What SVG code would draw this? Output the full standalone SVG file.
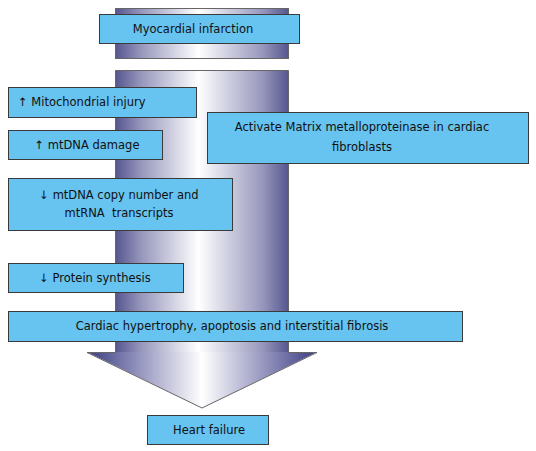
<svg xmlns="http://www.w3.org/2000/svg" width="536" height="451" viewBox="0 0 536 451">
<defs>
<linearGradient id="g" x1="0" y1="0" x2="1" y2="0">
<stop offset="0" stop-color="#56568f"/>
<stop offset="0.15" stop-color="#9797bd"/>
<stop offset="0.48" stop-color="#ffffff"/>
<stop offset="0.85" stop-color="#9797bd"/>
<stop offset="1" stop-color="#56568f"/>
</linearGradient>
<linearGradient id="gh" x1="0" y1="0" x2="1" y2="0">
<stop offset="0" stop-color="#3c3c82"/>
<stop offset="0.2" stop-color="#8a8ab8"/>
<stop offset="0.5" stop-color="#ffffff"/>
<stop offset="0.8" stop-color="#8a8ab8"/>
<stop offset="1" stop-color="#3c3c82"/>
</linearGradient>
<style>
.box{fill:#67c3ef;stroke:#3a3a3a;stroke-width:1}
.t{font-family:"DejaVu Sans",Verdana,sans-serif;font-size:11.5px;fill:#111}
.c{text-anchor:middle}
.sh{stroke:#666;stroke-width:1}
</style>
</defs>
<g id="connectors">
<rect class="sh" x="115.5" y="8.5" width="173" height="50" fill="url(#g)"/>
<rect x="115.5" y="70.5" width="173" height="282" fill="url(#g)"/>
<polygon points="87,352 317,352 202,408" fill="url(#gh)"/>
<path d="M115.5,352.5 V70.5 H288.5 V352.5 H317 L202,408 L87,352.5 Z" fill="none" stroke="#666" stroke-width="1"/>
</g>
<g id="n1"><rect class="box" x="99.5" y="14.5" width="200" height="29"/><text class="t c" x="193" y="33">Myocardial infarction</text></g>
<g id="n2"><rect class="box" x="8.5" y="87.5" width="188" height="30"/><text class="t" x="18" y="106">↑ Mitochondrial injury</text></g>
<g id="n3"><rect class="box" x="8.5" y="130.5" width="154" height="29"/><text class="t c" x="87" y="149">↑ mtDNA damage</text></g>
<g id="n4"><rect class="box" x="207.5" y="112.5" width="321" height="51"/><text class="t c" x="362" y="131">Activate Matrix metalloproteinase in cardiac</text><text class="t c" x="362" y="151">fibroblasts</text></g>
<g id="n5"><rect class="box" x="8.5" y="178.5" width="224" height="52"/><text class="t c" x="119" y="199">↓ mtDNA copy number and</text><text class="t c" x="119" y="217" xml:space="preserve">mtRNA  transcripts</text></g>
<g id="n6"><rect class="box" x="8.5" y="263.5" width="175" height="29"/><text class="t c" x="95" y="282">↓ Protein synthesis</text></g>
<g id="n7"><rect class="box" x="8.5" y="311.5" width="454" height="30"/><text class="t c" x="232" y="330">Cardiac hypertrophy, apoptosis and interstitial fibrosis</text></g>
<g id="n8"><rect class="box" x="147.5" y="415.5" width="121" height="29"/><text class="t c" x="209" y="434">Heart failure</text></g>
</svg>
